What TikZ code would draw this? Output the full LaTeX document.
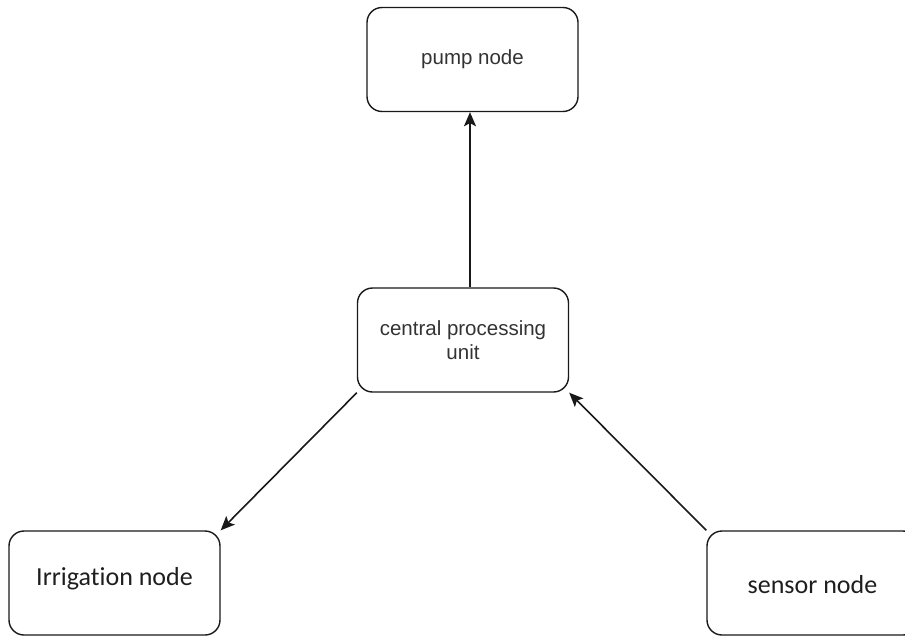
\documentclass[tikz,border=0pt]{standalone}
\usepackage{fontspec}
\setmainfont{Liberation Sans}
\newfontfamily\calibrifont[Ligatures={NoCommon,NoRequired,NoContextual}]{Carlito}
\usetikzlibrary{arrows.meta}
\definecolor{labelgray}{HTML}{333333}
\definecolor{labeldark}{HTML}{1E1E1E}
\tikzset{
  unitbox/.style={draw=black!90, line width=1.4pt, rounded corners=15pt,
    minimum width=211pt, minimum height=104pt, inner sep=0pt,
    align=center},
  arialtext/.style={text=labelgray, font=\fontsize{20.5}{24}\selectfont},
  calibritext/.style={text=labeldark, font=\calibrifont\fontsize{26}{30}\selectfont},
  link/.style={draw=black!90, line width=1.6pt,
    -{Stealth[length=14pt, width=12pt, inset=3pt]}}
}
\begin{document}
\begin{tikzpicture}[x=1pt, y=-1pt]
  \useasboundingbox (0,0) rectangle (905,637);
  % boxes
  \node[unitbox, arialtext] (pump) at (472.5,59.5) {pump node};
  \node[unitbox, arialtext] (cpu)  at (463,340) {central processing\\unit};
  \node[unitbox, calibritext, text height=8pt, text depth=4pt]
    (irr) at (114.5,583) {Irrigation node};
  \node[unitbox, calibritext, text height=20pt, text depth=0pt]
    (sensor) at (812.5,583) {sensor node};
  % vertical line of the upward link
  \coordinate (upx) at (470,0);
  % connectors
  \draw[link] (cpu.north -| upx) -- (pump.south -| upx);
  \draw[link] (cpu.south west) -- (irr.north east);
  \draw[link] (sensor.north west) -- (cpu.south east);
\end{tikzpicture}
\end{document}
